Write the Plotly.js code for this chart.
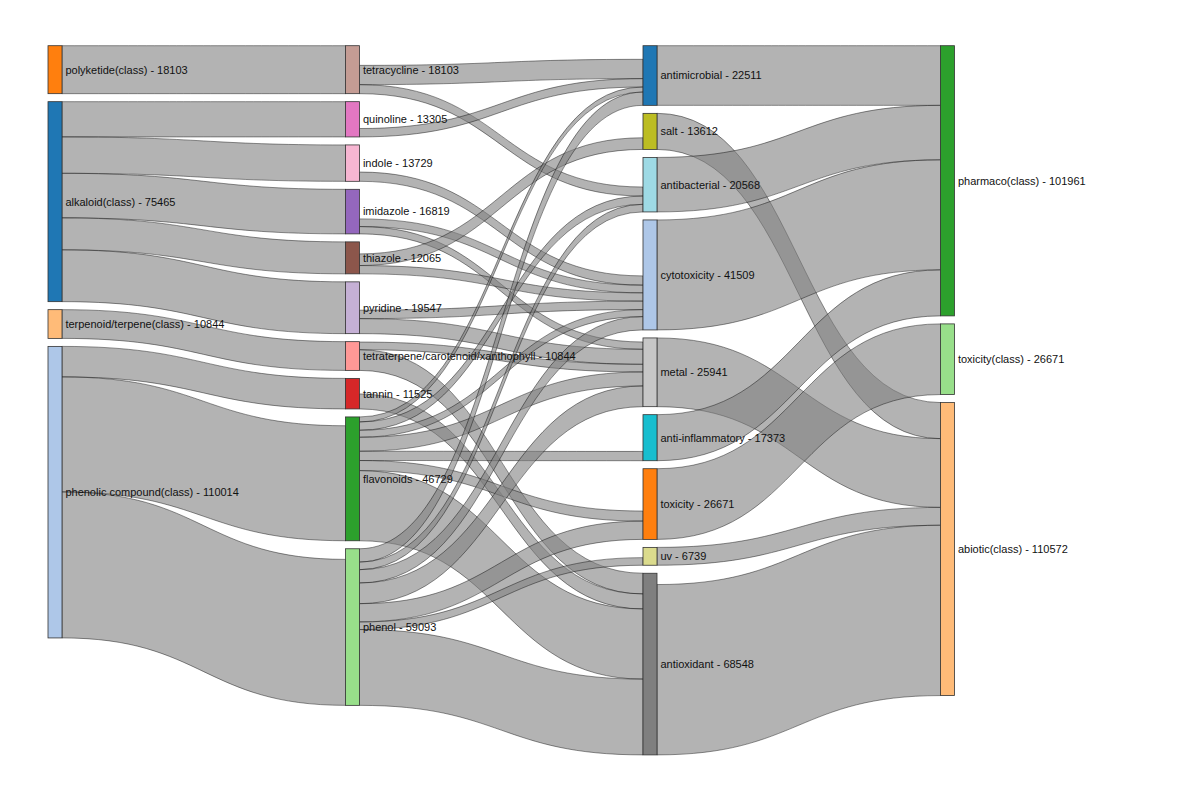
<!DOCTYPE html>
<html>
<head>
<meta charset="utf-8">
<script src="https://cdn.plot.ly/plotly-3.0.1.min.js"></script>
<style>html,body{margin:0;padding:0;background:#fff;overflow:hidden;}#chart{width:1200px;height:800px;}</style>
</head>
<body>
<div id="chart"></div>
<script>
// ---------------- data ----------------
const nodeNames = [
  'polyketide(class)', 'alkaloid(class)', 'terpenoid/terpene(class)', 'phenolic compound(class)',
  'tetracycline', 'quinoline', 'indole', 'imidazole', 'thiazole', 'pyridine',
  'tetraterpene/carotenoid/xanthophyll', 'tannin', 'flavonoids', 'phenol',
  'antimicrobial', 'salt', 'antibacterial', 'cytotoxicity', 'metal', 'anti-inflammatory',
  'toxicity', 'uv', 'antioxidant',
  'pharmaco(class)', 'toxicity(class)', 'abiotic(class)'
];
const nodeTotals = [
  18103, 75465, 10844, 110014,
  18103, 13305, 13729, 16819, 12065, 19547,
  10844, 11525, 46729, 59093,
  22511, 13612, 20568, 41509, 25941, 17373,
  26671, 6739, 68548,
  101961, 26671, 110572
];
const nodeColumn = [
  0, 0, 0, 0,
  1, 1, 1, 1, 1, 1, 1, 1, 1, 1,
  2, 2, 2, 2, 2, 2, 2, 2, 2,
  3, 3, 3
];
const nodeColors = [
  '#ff7f0e', '#1f77b4', '#ffbb78', '#aec7e8',
  '#c49c94', '#e377c2', '#f7b6d2', '#9467bd', '#8c564b', '#c5b0d5',
  '#ff9896', '#d62728', '#2ca02c', '#98df8a',
  '#1f77b4', '#bcbd22', '#9edae5', '#aec7e8', '#c7c7c7', '#17becf',
  '#ff7f0e', '#dbdb8d', '#7f7f7f',
  '#2ca02c', '#98df8a', '#ffbb78'
];

const linkSources = [
  'polyketide(class)',
  'alkaloid(class)', 'alkaloid(class)', 'alkaloid(class)', 'alkaloid(class)', 'alkaloid(class)',
  'terpenoid/terpene(class)',
  'phenolic compound(class)', 'phenolic compound(class)', 'phenolic compound(class)',
  'tetracycline', 'tetracycline',
  'quinoline',
  'indole',
  'imidazole', 'imidazole',
  'thiazole', 'thiazole',
  'pyridine', 'pyridine',
  'tetraterpene/carotenoid/xanthophyll', 'tetraterpene/carotenoid/xanthophyll',
  'tannin',
  'flavonoids', 'flavonoids', 'flavonoids', 'flavonoids', 'flavonoids', 'flavonoids', 'flavonoids',
  'phenol', 'phenol', 'phenol', 'phenol', 'phenol', 'phenol', 'phenol',
  'antimicrobial', 'salt', 'antibacterial', 'cytotoxicity', 'metal', 'anti-inflammatory',
  'toxicity', 'uv', 'antioxidant'
];
const linkTargets = [
  'tetracycline',
  'quinoline', 'indole', 'imidazole', 'thiazole', 'pyridine',
  'tetraterpene/carotenoid/xanthophyll',
  'tannin', 'flavonoids', 'phenol',
  'antimicrobial', 'antibacterial',
  'antimicrobial',
  'cytotoxicity',
  'cytotoxicity', 'metal',
  'salt', 'cytotoxicity',
  'cytotoxicity', 'metal',
  'metal', 'antioxidant',
  'antioxidant',
  'antimicrobial', 'antibacterial', 'cytotoxicity', 'metal', 'anti-inflammatory', 'toxicity', 'antioxidant',
  'antimicrobial', 'antibacterial', 'cytotoxicity', 'metal', 'toxicity', 'uv', 'antioxidant',
  'pharmaco(class)', 'abiotic(class)', 'pharmaco(class)', 'pharmaco(class)', 'abiotic(class)', 'pharmaco(class)',
  'toxicity(class)', 'abiotic(class)', 'abiotic(class)'
];
const linkValues = [
  18103,
  13305, 13729, 16819, 12065, 19547,
  10844,
  11525, 43400, 55089,
  7280, 3400,
  3170,
  3500,
  2900, 2760,
  4400, 3130,
  3200, 5660,
  2900, 7800,
  5666,
  1900, 3130, 2640, 5280, 3500, 3800, 26479,
  5020, 2870, 5020, 7810, 6900, 2870, 28603,
  22511, 13612, 20568, 41509, 25941, 17373,
  26671, 6739, 64280
];

// ---------------- layout settings ----------------
const PAGE_W = 1200, PAGE_H = 800;
const M = { l: 0, r: 0, t: 45, b: 0 };
const W = PAGE_W - M.l - M.r, H = PAGE_H - M.t - M.b;
const KY = 0.00265;          // pixels per unit of flow
const GAP = 8;               // vertical gap between nodes
const THICK = 14;            // node thickness
const FIRST_LEFT = 48, LAST_LEFT = 940.5, TOP = 0.7;
const NCOL = 4;

const N = nodeNames.length;
const idx = name => nodeNames.indexOf(name);
const src = linkSources.map(idx), tgt = linkTargets.map(idx);

const inSum = new Array(N).fill(0), outSum = new Array(N).fill(0);
linkValues.forEach((v, i) => { outSum[src[i]] += v; inSum[tgt[i]] += v; });
const nodeVal = nodeNames.map((_, i) => Math.max(inSum[i], outSum[i]));

// node centres: nodes stacked from the top of each column
const colStep = (LAST_LEFT - FIRST_LEFT) / (NCOL - 1);
const nodeX = [], nodeY = [];
const cursor = new Array(NCOL).fill(TOP);
for (let i = 0; i < N; i++) {
  const c = nodeColumn[i];
  const h = nodeVal[i] * KY;
  nodeX.push((FIRST_LEFT + c * colStep + THICK / 2 - M.l) / W);
  nodeY.push((cursor[c] + h / 2) / H);
  cursor[c] += h + GAP;
}

// invisible helper nodes/links: unmatched inflow/outflow of a node is pushed to the
// bottom of the node (as in the reference) and the last real column keeps labels on the right
const D0 = N, DA = N + 1, DS = N + 2, EPS = 0.01;
const bindingSum = H / KY;
const colReal = [0, 0, 0, 0];
for (let i = 0; i < N; i++) colReal[nodeColumn[i]] += nodeVal[i];
const S = src.slice(), T = tgt.slice(), V = linkValues.slice();
const visible = V.map(() => true);
function addLink(s, t, v) { S.push(s); T.push(t); V.push(v); visible.push(false); }
let d0out = 0, daout = 0;
const capA = bindingSum - colReal[1] - 5;
addLink(D0, DA, EPS); d0out += EPS;
for (let i = 0; i < N; i++) {
  if (inSum[i] > 0 && outSum[i] > 0) {
    if (inSum[i] > outSum[i]) addLink(i, DS, inSum[i] - outSum[i]);
    else if (outSum[i] > inSum[i]) {
      const g = outSum[i] - inSum[i];
      if (nodeColumn[i] === 2 && daout + g <= capA) { addLink(DA, i, g); daout += g; }
      else { addLink(D0, i, g); d0out += g; }
    }
  }
  if (outSum[i] === 0) addLink(i, DS, EPS);
}
const filler = bindingSum - colReal[0] - d0out;
if (filler > 0) addLink(D0, DS, filler);

const labels = nodeNames.map((n, i) => n + ' - ' + nodeTotals[i]).concat(['', '', '']);
const colors = nodeColors.concat(['rgba(0,0,0,0)', 'rgba(0,0,0,0)', 'rgba(0,0,0,0)']);
nodeX.push(0.046, 0.294, 0.999);
nodeY.push(-1.2, -1.2, -1.2);

const data = [{
  type: 'sankey',
  orientation: 'h',
  arrangement: 'freeform',
  hoverinfo: 'none',
  node: {
    label: labels,
    color: colors,
    x: nodeX,
    y: nodeY,
    pad: 0,
    thickness: THICK,
    line: { color: '#333333', width: 0.8 },
    hoverinfo: 'none'
  },
  link: {
    source: S,
    target: T,
    value: V,
    color: visible.map(v => v ? 'rgba(128,128,128,0.6)' : 'rgba(0,0,0,0)'),
    line: { color: 'rgba(0,0,0,0.85)', width: 0.5 },
    hoverinfo: 'none'
  },
  textfont: { family: 'Arial, "Liberation Sans", sans-serif', size: 11, color: '#111', shadow: 'none' }
}];

const layout = {
  width: PAGE_W,
  height: PAGE_H,
  margin: M,
  paper_bgcolor: 'white',
  font: { family: 'Arial, "Liberation Sans", sans-serif', size: 11 }
};

function hideHelperOutlines(gd) {
  gd.querySelectorAll('path.sankey-link').forEach(p => {
    const fo = p.style.fillOpacity;
    if (fo !== '' && parseFloat(fo) === 0) {
      p.style.strokeOpacity = '0';
      p.style.strokeWidth = '0';
    }
  });
}

Plotly.newPlot('chart', data, layout, { displayModeBar: false, staticPlot: true }).then(gd => {
  hideHelperOutlines(gd);
  setTimeout(() => hideHelperOutlines(gd), 50);
  setTimeout(() => hideHelperOutlines(gd), 400);
});
</script>
</body>
</html>
